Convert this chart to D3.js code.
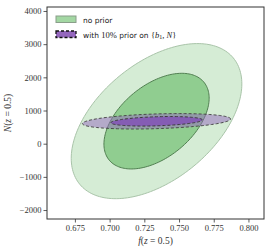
<!DOCTYPE html>
<html>
<head>
<meta charset="utf-8">
<script src="https://cdn.jsdelivr.net/npm/d3@7"></script>
<style>
  body { margin: 0; background: #fff; }
  svg text { font-family: "Liberation Serif", "DejaVu Serif", serif; }
</style>
</head>
<body>
<div class="container"></div>
<script>
// chart values
var xTicks = [0.675, 0.700, 0.725, 0.750, 0.775, 0.800]
var yTicks = [-2000, -1000, 0, 1000, 2000, 3000, 4000]
var xDomain = [0.6549, 0.8112]
var yDomain = [-2270, 4120]

var levels = [0.95, 0.68]           // contour levels (outer first)
var series = ['no prior', 'with 10% prior on {b1,N}']
var meanF = [0.7338, 0.7338]
var meanN = [680, 675]
var sigF = [0.0251, 0.0218]
var sigN = [955, 95]
var rho = [0.48, 0.30]

var w = 272, h = 250
var m = {top: 7, right: 8, bottom: 31, left: 47}

var svg = d3.select('.container')
    .append('svg')
    .attr('width', w)
    .attr('height', h)

var x = d3.scaleLinear().domain(xDomain).range([m.left, w - m.right])
var y = d3.scaleLinear().domain(yDomain).range([h - m.bottom, m.top])

svg.append('clipPath').attr('id', 'clip')
    .append('rect')
    .attr('x', m.left).attr('y', m.top)
    .attr('width', w - m.left - m.right)
    .attr('height', h - m.top - m.bottom)

var plot = svg.append('g').attr('clip-path', 'url(#clip)')

var line = d3.line().x(d => x(d[0])).y(d => y(d[1])).curve(d3.curveLinearClosed)

// contour of a 2d gaussian at a given enclosed probability
function ellipse(i, lev) {
    var k = Math.sqrt(-2 * Math.log(1 - lev))
    return d3.range(0, 2 * Math.PI, Math.PI / 90).map(t => [
        meanF[i] + k * sigF[i] * Math.cos(t),
        meanN[i] + k * sigN[i] * (rho[i] * Math.cos(t) + Math.sqrt(1 - rho[i] * rho[i]) * Math.sin(t))
    ])
}

var styles = [
    [ {fill: '#d5ecd5', stroke: '#a9c4a9', dash: null},
      {fill: '#90cd90', stroke: '#517f51', dash: null} ],
    [ {fill: '#9467bd', op: 0.5, stroke: '#4a4a4a', dash: '3,2'},
      {fill: '#8457b6', op: 0.9, stroke: '#3a3a3a', dash: '3,2'} ]
]

series.forEach((s, i) => {
    levels.forEach((lev, j) => {
        var st = styles[i][j]
        plot.append('path')
            .attr('d', line(ellipse(i, lev)))
            .style('fill', st.fill)
            .style('fill-opacity', st.op || 1)
            .style('stroke', st.stroke)
            .style('stroke-width', 1)
            .style('stroke-dasharray', st.dash)
    })
})

// axes
var fmtY = d => d < 0 ? '\u2212' + Math.abs(d) : String(d)

svg.append('g')
    .attr('transform', 'translate(0,' + (h - m.bottom) + ')')
    .call(d3.axisBottom(x).tickValues(xTicks).tickFormat(d3.format('.3f')).tickSize(3.5).tickPadding(2))
svg.append('g')
    .attr('transform', 'translate(' + m.left + ',0)')
    .call(d3.axisLeft(y).tickValues(yTicks).tickFormat(fmtY).tickSize(3.5).tickPadding(2))

svg.selectAll('.domain').remove()
svg.selectAll('.tick line').style('stroke', '#333').style('stroke-width', 0.8)
svg.selectAll('.tick text')
    .style('font-family', '"Liberation Serif", serif')
    .style('font-size', '8.5px')
    .style('fill', '#333')

svg.append('rect')
    .attr('x', m.left).attr('y', m.top)
    .attr('width', w - m.left - m.right)
    .attr('height', h - m.top - m.bottom)
    .style('fill', 'none')
    .style('stroke', '#333')
    .style('stroke-width', 1)

// axis labels
var xl = svg.append('text')
    .attr('x', (m.left + w - m.right) / 2)
    .attr('y', 244)
    .attr('text-anchor', 'middle')
    .style('font-size', '9.5px')
    .style('fill', '#333')
xl.append('tspan').style('font-style', 'italic').text('f')
xl.append('tspan').text('(')
xl.append('tspan').style('font-style', 'italic').text('z')
xl.append('tspan').text(' = 0.5)')

var yl = svg.append('text')
    .attr('transform', 'translate(11,' + ((m.top + h - m.bottom) / 2) + ') rotate(-90)')
    .attr('text-anchor', 'middle')
    .style('font-size', '9.5px')
    .style('fill', '#333')
yl.append('tspan').style('font-style', 'italic').text('N')
yl.append('tspan').text('(')
yl.append('tspan').style('font-style', 'italic').text('z')
yl.append('tspan').text(' = 0.5)')

// legend
var lg = svg.append('g')
lg.append('rect')
    .attr('x', 56).attr('y', 16).attr('width', 20).attr('height', 6.5)
    .style('fill', '#a3d7a3').style('stroke', '#8a9e8a').style('stroke-width', 1)
lg.append('rect')
    .attr('x', 56).attr('y', 31).attr('width', 20).attr('height', 6.5)
    .style('fill', '#9467bd').style('stroke', '#111').style('stroke-width', 1.3)
    .style('stroke-dasharray', '3,2')

lg.append('text')
    .attr('x', 83).attr('y', 22.5)
    .style('font-family', '"DejaVu Sans", sans-serif')
    .style('font-size', '7.5px')
    .style('fill', '#222')
    .text(series[0])

var serif = '"Liberation Serif", serif'
var t2 = lg.append('text')
    .attr('x', 83).attr('y', 37.5)
    .style('font-family', '"DejaVu Sans", sans-serif')
    .style('font-size', '7.5px')
    .style('fill', '#222')
t2.append('tspan').text('with ')
t2.append('tspan').style('font-family', serif).style('font-size', '8.5px').text('10%')
t2.append('tspan').text(' prior on ')
t2.append('tspan').style('font-family', serif).style('font-size', '8.5px').text('{')
t2.append('tspan').style('font-family', serif).style('font-size', '8.5px').style('font-style', 'italic').text('b')
t2.append('tspan').style('font-family', serif).style('font-size', '6px').attr('dy', 1.5).text('1')
t2.append('tspan').style('font-family', serif).style('font-size', '8.5px').attr('dy', -1.5).text(', ')
t2.append('tspan').style('font-family', serif).style('font-size', '8.5px').style('font-style', 'italic').text('N')
t2.append('tspan').style('font-family', serif).style('font-size', '8.5px').text('}')
</script>
</body>
</html>
